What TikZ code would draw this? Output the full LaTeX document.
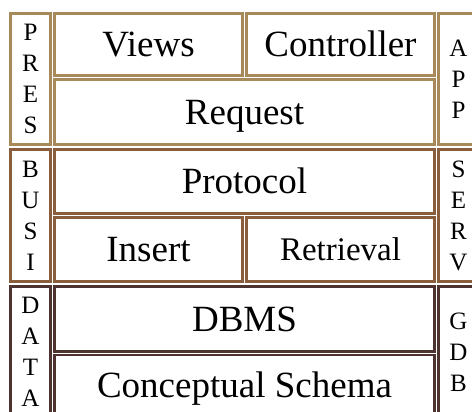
\documentclass[tikz,border=0pt]{standalone}
\usepackage{fontspec}
\setmainfont{Liberation Serif}
\usepackage{tikz}
\definecolor{presc}{HTML}{A88A5A}
\definecolor{busic}{HTML}{8A5E3C}
\definecolor{datac}{HTML}{4E3430}

\begin{document}
\begin{tikzpicture}[x=1pt, y=-1pt,
  cell/.style={draw, line width=2.6pt, inner sep=0pt, outer sep=0pt, text height=24.5pt, text depth=0pt, font=\fontsize{37}{44}\selectfont},
  side/.style={draw, line width=2.6pt, inner sep=0pt, outer sep=0pt, align=center, minimum width=40.4pt, minimum height=131.4pt, font=\fontsize{25}{31}\selectfont}]
\useasboundingbox (0,0) rectangle (472,412);
% presentation
\node[side, draw=presc](pres) at (30.5,79) {P\\R\\E\\S};
\node[cell, draw=presc, minimum width=188.4pt, minimum height=62.4pt](views) at (148.5,44.5) {Views};
\node[cell, draw=presc, minimum width=188.4pt, minimum height=62.4pt](ctrl) at (340.5,44.5) {Controller};
\node[cell, draw=presc, minimum width=380.4pt, minimum height=65.4pt](req) at (244.5,112) {Request};
\node[side, draw=presc](app) at (458.5,79) {A\\P\\P};
% business
\node[side, draw=busic](busi) at (30.5,215.5) {B\\U\\S\\I};
\node[cell, draw=busic, minimum width=380.4pt, minimum height=64.4pt](proto) at (244.5,181.5) {Protocol};
\node[cell, draw=busic, minimum width=188.4pt, minimum height=64.4pt](ins) at (148.5,249.5) {Insert};
\node[cell, draw=busic, minimum width=188.4pt, minimum height=64.4pt, text height=22pt, font=\fontsize{33}{40}\selectfont](ret) at (340.5,249.5) {Retrieval};
\node[side, draw=busic](serv) at (458.5,215.5) {S\\E\\R\\V};
% data
\node[side, draw=datac](data) at (30.5,352) {D\\A\\T\\A};
\node[cell, draw=datac, minimum width=380.4pt, minimum height=65.4pt](dbms) at (244.5,319) {DBMS};
\node[cell, draw=datac, minimum width=380.4pt, minimum height=60.4pt](schema) at (244.5,385) {Conceptual Schema};
\node[side, draw=datac](gdb) at (458.5,352) {G\\D\\B};
\end{tikzpicture}
\end{document}
